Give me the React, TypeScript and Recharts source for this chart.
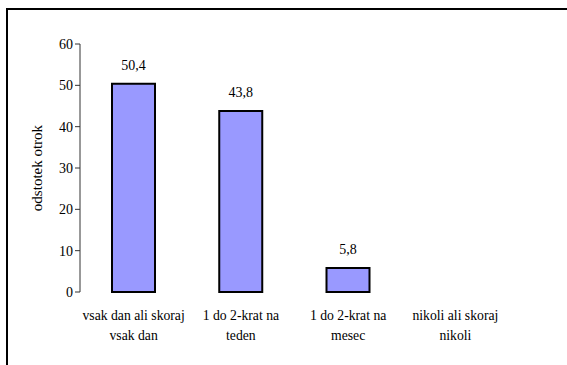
import React from 'react';
import { BarChart, Bar, XAxis, YAxis, LabelList } from 'recharts';

const categories = [
  'vsak dan ali skoraj\nvsak dan',
  '1 do 2-krat na\nteden',
  '1 do 2-krat na\nmesec',
  'nikoli ali skoraj\nnikoli',
];
const values = [50.4, 43.8, 5.8, 0];
const yTicks = [0, 10, 20, 30, 40, 50, 60];
const boundaryTicks = [0, 1, 2, 3, 4];
const yLabel = 'odstotek otrok';

const data = categories.map((c, i) => ({ name: c, value: values[i], pos: i + 0.5 }));

const FONT = "'Liberation Serif', 'Times New Roman', serif";

const CatTick = (props: any) => {
  const { x, y, payload } = props;
  const lines = String(payload.value).split('\n');
  return (
    <g>
      {lines.map((l: string, i: number) => (
        <text
          key={i}
          x={x}
          y={y + 20 + i * 20}
          textAnchor="middle"
          style={{ fontFamily: FONT, fontSize: 13.7, fill: '#000' }}
        >
          {l}
        </text>
      ))}
    </g>
  );
};

export default function App() {
  return (
    <div style={{ position: 'absolute', left: 0, top: 0, width: 567, height: 365, overflow: 'hidden', background: '#fff' }}>
      <div style={{ position: 'absolute', left: 6, top: 8, width: 2, height: 357, background: '#000' }} />
      <div style={{ position: 'absolute', left: 6, top: 8, width: 561, height: 2, background: '#000' }} />
      <div style={{ position: 'absolute', left: 8, top: 10 }}>
        <BarChart
          width={540}
          height={340}
          data={data}
          margin={{ top: 34, right: 39, bottom: 8, left: 0 }}
        >
          <XAxis
            xAxisId="grid"
            type="number"
            dataKey="pos"
            domain={[0, 4]}
            ticks={boundaryTicks}
            height={0}
            axisLine={{ stroke: '#333' }}
            tickLine={{ stroke: '#333' }}
            tickSize={5}
            tickFormatter={() => ''}
            allowDecimals={false}
          />
          <XAxis
            xAxisId="cat"
            dataKey="name"
            type="category"
            height={50}
            axisLine={false}
            tickLine={false}
            tick={<CatTick />}
            interval={0}
          />
          <YAxis
            width={72}
            domain={[0, 60]}
            ticks={yTicks}
            axisLine={{ stroke: '#333' }}
            tickLine={{ stroke: '#333' }}
            tickSize={5}
            tick={{ fontFamily: FONT, fontSize: 14, fill: '#000' }}
            label={{
              value: yLabel,
              angle: -90,
              position: 'center',
              dx: -7,
              style: { fontFamily: FONT, fontSize: 15, fill: '#000', textAnchor: 'middle' },
            }}
          />
          <Bar
            xAxisId="cat"
            dataKey="value"
            fill="#9999FF"
            stroke="#000"
            strokeWidth={2}
            barSize={43}
            isAnimationActive={false}
          >
            <LabelList
              dataKey="value"
              position="top"
              offset={14}
              formatter={(v: any) => String(v).replace('.', ',')}
              style={{ fontFamily: FONT, fontSize: 14, fill: '#000' }}
            />
          </Bar>
        </BarChart>
      </div>
    </div>
  );
}
